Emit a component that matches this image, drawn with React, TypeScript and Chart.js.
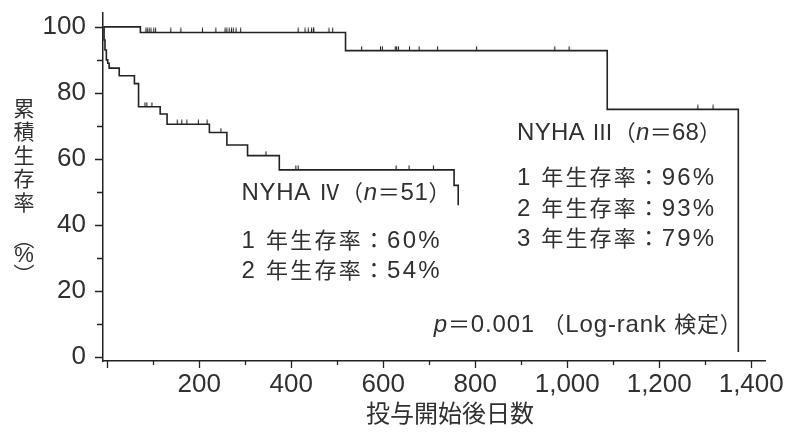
import { useEffect, useRef } from 'react';
import { Chart, registerables } from 'chart.js';

Chart.register(...registerables);

// ---- data ----
// NYHA III (n=68): step times (days) and survival (%) after each step
const nyha3Days = [-8, 72, 518, 1087, 1372];
const nyha3Survival = [100, 98.3, 92.8, 75, 1.5];
const nyha3CensoredDays = [
  84, 87, 91, 95, 101, 105, 138, 160, 207, 236, 256, 260, 265, 270, 274, 280, 290,
  415, 430, 437, 444, 448, 449, 482, 490, 553, 594, 598, 626, 629, 633, 657, 678,
  718, 803, 973, 1004, 1284, 1317,
];

// NYHA IV (n=51)
const nyha4Days = [-8, -7, -5, -2, 1, 4, 26, 59, 68, 115, 130, 222, 260, 305, 374, 754, 763];
const nyha4Survival = [100, 96, 93, 90, 89, 87.5, 85.2, 82.8, 75.8, 73.6, 70.5, 68, 64.2, 61, 56.7, 52, 46];
const nyha4CensoredDays = [82, 86, 97, 152, 162, 173, 198, 217, 247, 345, 410, 415, 628, 656, 709];

// axes
const xTickValues = [0, 200, 400, 600, 800, 1000, 1200, 1400];
const xTickLabels = ['', '200', '400', '600', '800', '1,000', '1,200', '1,400'];
const xMinorTickValues = [100, 300, 500, 700, 900, 1100, 1300];
const yTickValues = [0, 20, 40, 60, 80, 100];
const yTickLabels = ['0', '20', '40', '60', '80', '100'];
const yMinorTickValues = [10, 30, 50, 70, 90];

const yTitleChars = ['累', '積', '生', '存', '率', '︵', '%', '︶'];
const xTitle = '投与開始後日数';

type Seg = { t: string; it?: boolean };
const nyha4Label: Seg[] = [{ t: 'NYHA Ⅳ（' }, { t: 'n', it: true }, { t: '＝51）' }];
const nyha4Rates = ['1 年生存率：60%', '2 年生存率：54%'];
const nyha3Label: Seg[] = [{ t: 'NYHA Ⅲ（' }, { t: 'n', it: true }, { t: '＝68）' }];
const nyha3Rates = ['1 年生存率：96%', '2 年生存率：93%', '3 年生存率：79%'];
const pValueLabel: Seg[] = [{ t: 'p', it: true }, { t: '＝0.001 （Log-rank 検定）' }];

// ---- styling / layout ----
const LINE = '#222222';
const TEXT = '#303030';
const LATIN = "'Liberation Sans', Arial, sans-serif";
const CJK = "'Noto Sans CJK JP', 'Noto Sans CJK SC', sans-serif";

function levelAt(days: number[], surv: number[], t: number) {
  let v = surv[0];
  for (let i = 0; i < days.length; i++) if (days[i] <= t) v = surv[i];
  return v;
}

function drawSegs(
  ctx: CanvasRenderingContext2D,
  segs: Seg[],
  x: number,
  baseline: number,
  latinSize: number,
  cjkSize: number,
  targetW: number,
) {
  const fontFor = (ch: string, it?: boolean) =>
    ch.charCodeAt(0) > 0x2000
      ? `${cjkSize}px ${CJK}`
      : `${it ? 'italic ' : ''}${latinSize}px ${LATIN}`;
  let total = 0;
  let n = 0;
  for (const s of segs) {
    for (const ch of Array.from(s.t)) {
      ctx.font = fontFor(ch, s.it);
      total += ctx.measureText(ch).width;
      n++;
    }
  }
  const extra = n > 1 ? (targetW - total) / (n - 1) : 0;
  let cx = x;
  for (const s of segs) {
    for (const ch of Array.from(s.t)) {
      ctx.font = fontFor(ch, s.it);
      ctx.fillText(ch, cx, baseline);
      cx += ctx.measureText(ch).width + extra;
    }
  }
}

export default function App() {
  const ref = useRef<HTMLCanvasElement>(null);

  useEffect(() => {
    const canvas = ref.current!;
    const marker = document.createElement('canvas');
    marker.width = 3;
    marker.height = 10;
    const mctx = marker.getContext('2d')!;
    mctx.strokeStyle = LINE;
    mctx.lineWidth = 1.1;
    mctx.beginPath();
    mctx.moveTo(1.5, 0.5);
    mctx.lineTo(1.5, 5);
    mctx.stroke();

    const overlay = {
      id: 'overlay',
      afterDraw(chart: any) {
        const ctx: CanvasRenderingContext2D = chart.ctx;
        const xs = chart.scales.x;
        const ys = chart.scales.y;
        const area = chart.chartArea;
        ctx.save();
        // tick marks
        ctx.strokeStyle = LINE;
        ctx.lineWidth = 1.3;
        ctx.beginPath();
        for (const v of yTickValues) {
          const p = Math.round(ys.getPixelForValue(v)) + 0.5;
          ctx.moveTo(area.left - 8, p);
          ctx.lineTo(area.left, p);
        }
        for (const v of yMinorTickValues) {
          const p = Math.round(ys.getPixelForValue(v)) + 0.5;
          ctx.moveTo(area.left - 6, p);
          ctx.lineTo(area.left, p);
        }
        for (const v of xTickValues) {
          const p = Math.round(xs.getPixelForValue(v)) + 0.5;
          ctx.moveTo(p, area.bottom);
          ctx.lineTo(p, area.bottom + 7);
        }
        for (const v of xMinorTickValues) {
          const p = Math.round(xs.getPixelForValue(v)) + 0.5;
          ctx.moveTo(p, area.bottom);
          ctx.lineTo(p, area.bottom + 4);
        }
        ctx.stroke();

        ctx.fillStyle = TEXT;
        // y title (vertical)
        ctx.textAlign = 'center';
        ctx.textBaseline = 'middle';
        const yCenters = [108, 131.5, 155, 178.5, 202, 238, 256, 274];
        yTitleChars.forEach((c, i) => {
          ctx.font = c === '%' ? `22px ${LATIN}` : `21px ${CJK}`;
          ctx.fillText(c, 24, yCenters[i]);
        });
        // x title
        ctx.font = `24px ${CJK}`;
        ctx.fillText(xTitle, 450, 413);

        // annotations
        ctx.textAlign = 'left';
        ctx.textBaseline = 'alphabetic';
        const x4 = xs.getPixelForValue(292);
        drawSegs(ctx, nyha4Label, x4, ys.getPixelForValue(47.6), 24, 22, 209);
        drawSegs(ctx, [{ t: nyha4Rates[0] }], x4, ys.getPixelForValue(33.0), 24, 22, 198);
        drawSegs(ctx, [{ t: nyha4Rates[1] }], x4, ys.getPixelForValue(23.9), 24, 22, 198);
        const x3 = xs.getPixelForValue(891);
        drawSegs(ctx, nyha3Label, x3, ys.getPixelForValue(65.6), 24, 22, 204);
        drawSegs(ctx, [{ t: nyha3Rates[0] }], x3, ys.getPixelForValue(52.1), 24, 22, 197);
        drawSegs(ctx, [{ t: nyha3Rates[1] }], x3, ys.getPixelForValue(42.7), 24, 22, 197);
        drawSegs(ctx, [{ t: nyha3Rates[2] }], x3, ys.getPixelForValue(33.6), 24, 22, 197);
        drawSegs(ctx, pValueLabel, xs.getPixelForValue(710), ys.getPixelForValue(7.7), 24, 22, 308);
        ctx.restore();
      },
    };

    const tickFont = { family: LATIN, size: 26 };

    const chart = new Chart(canvas, {
      type: 'line',
      data: {
        datasets: [
          {
            data: nyha3Days.map((d, i) => ({ x: d, y: nyha3Survival[i] })),
            borderColor: LINE,
            borderWidth: 1.6,
            pointRadius: 0,
            stepped: true,
            fill: false,
          },
          {
            data: nyha4Days.map((d, i) => ({ x: d, y: nyha4Survival[i] })),
            borderColor: LINE,
            borderWidth: 1.6,
            pointRadius: 0,
            stepped: true,
            fill: false,
          },
          {
            data: nyha3CensoredDays.map((d) => ({ x: d, y: levelAt(nyha3Days, nyha3Survival, d) })),
            showLine: false,
            pointStyle: marker as any,
            pointRadius: 3,
            pointHoverRadius: 3,
          },
          {
            data: nyha4CensoredDays.map((d) => ({ x: d, y: levelAt(nyha4Days, nyha4Survival, d) })),
            showLine: false,
            pointStyle: marker as any,
            pointRadius: 3,
            pointHoverRadius: 3,
          },
        ],
      },
      options: {
        responsive: false,
        animation: false,
        events: [],
        layout: { padding: { top: 13, right: 28, left: 0, bottom: 0 } },
        plugins: { legend: { display: false }, tooltip: { enabled: false } },
        scales: {
          x: {
            type: 'linear',
            min: -9.3,
            max: 1430,
            afterBuildTicks: (s: any) => {
              s.ticks = xTickValues.map((v) => ({ value: v }));
            },
            ticks: {
              autoSkip: false,
              maxRotation: 0,
              padding: 8,
              color: TEXT,
              font: tickFont,
              callback: (_v: any, i: number) => xTickLabels[i],
            },
            grid: { display: false, drawTicks: false },
            border: { display: true, color: LINE, width: 1.5 },
            afterFit: (s: any) => {
              s.height = 71;
              s.paddingLeft = 0;
              s.paddingRight = 0;
            },
          },
          y: {
            type: 'linear',
            min: -1.2,
            max: 104.2,
            afterBuildTicks: (s: any) => {
              s.ticks = yTickValues.map((v) => ({ value: v }));
            },
            ticks: {
              autoSkip: false,
              padding: 17,
              color: TEXT,
              font: tickFont,
              callback: (_v: any, i: number) => yTickLabels[i],
            },
            grid: { display: false, drawTicks: false },
            border: { display: true, color: LINE, width: 1.5 },
            afterFit: (s: any) => {
              s.width = 103;
              s.paddingTop = 0;
              s.paddingBottom = 0;
            },
          },
        },
      },
      plugins: [overlay],
    } as any);

    return () => chart.destroy();
  }, []);

  return (
    <div style={{ position: 'fixed', left: 0, top: 0, width: 793, height: 432, background: '#fff' }}>
      <canvas ref={ref} width={793} height={432} style={{ display: 'block', width: 793, height: 432 }} />
    </div>
  );
}
